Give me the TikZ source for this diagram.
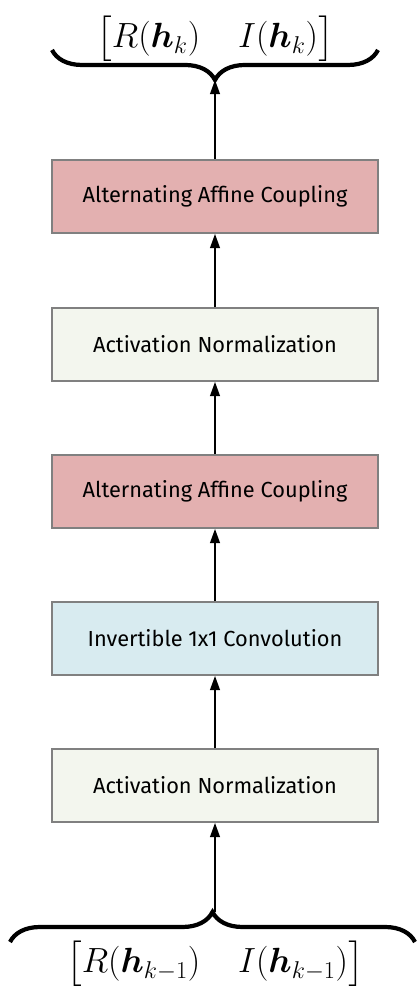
\documentclass[tikz,border=0pt]{standalone}
\usepackage{amsmath,amssymb,bm}
\usepackage{fontspec}
\newfontfamily\blockfont{Fira Sans}
\usepackage{tikz}
\usetikzlibrary{arrows.meta,positioning,decorations.pathreplacing}
\usepackage[dvipsnames,svgnames]{xcolor}
\definecolor{couplred}{RGB}{227,176,176}
\definecolor{normgreen}{RGB}{243,246,238}
\definecolor{convblue}{RGB}{216,235,240}
\definecolor{edgegray}{RGB}{128,128,128}

\begin{document}
\begin{tikzpicture}[
  block/.style={rectangle,draw=edgegray,line width=1.4pt,
                minimum width=8.15cm,minimum height=1.825cm,
                font=\blockfont\fontsize{15.5}{18}\selectfont},
  flow/.style={-{Triangle[width=7pt,length=10pt]},line width=1pt},
  curly/.style={decorate,decoration={brace,amplitude=0.75cm},line width=3pt},
  vec/.style={font=\fontsize{27}{32}\selectfont,inner sep=0pt,anchor=base}
]
  \useasboundingbox (0,0) rectangle (10.425,24.775);

  \node[block,fill=normgreen] (an1)  at (5.375,5.1375)  {Activation Normalization};
  \node[block,fill=convblue]  (conv) at (5.375,8.8125)  {Invertible 1x1 Convolution};
  \node[block,fill=couplred]  (aac1) at (5.375,12.4875) {Alternating Affine Coupling};
  \node[block,fill=normgreen] (an2)  at (5.375,16.1625) {Activation Normalization};
  \node[block,fill=couplred]  (aac2) at (5.375,19.8625) {Alternating Affine Coupling};

  % input / output braces
  \draw[curly] (0.25,1.225) -- (10.375,1.225);
  \coordinate (intip) at (5.375,1.975);
  \node[vec] (hin) at (5.375,0.45)
    {$\bigl[R(\bm{h}_{k-1})\quad I(\bm{h}_{k-1})\bigr]$};

  \draw[curly] (9.45,23.525) -- (1.3,23.525);
  \coordinate (outtip) at (5.375,22.775);
  \node[vec] (hout) at (5.375,23.58)
    {$\bigl[R(\bm{h}_{k})\quad I(\bm{h}_{k})\bigr]$};

  \foreach \a/\b in {intip/an1,an1/conv,conv/aac1,aac1/an2,an2/aac2,aac2/outtip}{
    \draw[flow] (\a)--(\b);
  }
\end{tikzpicture}
\end{document}
